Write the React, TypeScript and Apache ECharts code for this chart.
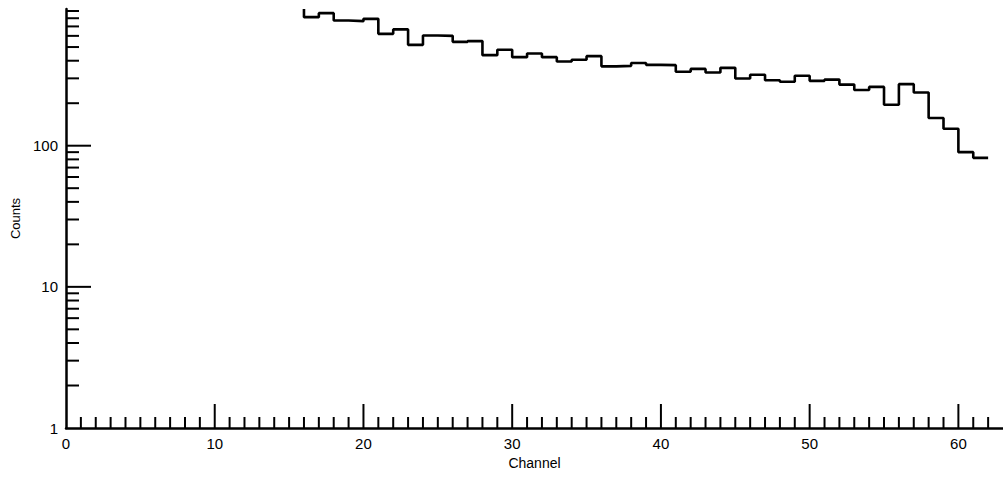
import React, { useEffect, useRef } from "react";
import * as echarts from "echarts";

const FIRST_CHANNEL = 16;
const counts = [
  814, 869, 770, 763, 792, 620, 667, 518, 603, 600, 544, 551, 438, 478, 424, 450,
  424, 395, 406, 431, 365, 368, 385, 374, 372, 334, 350, 330, 356, 299, 318, 291,
  284, 313, 288, 294, 271, 248, 261, 195, 273, 238, 157, 132, 90, 82,
];
const xMin = 0;
const xMax = 63;
const yMin = 1;
const yMax = 930;
const xMajorTicks = [10, 20, 30, 40, 50, 60];
const xMinorTicks = Array.from({ length: 62 }, (_, i) => i + 1).filter((v) => v % 10 !== 0);
const yMajorTicks = [10, 100];
const yMinorTicks = [2, 3, 4, 5, 6, 7, 8, 9, 20, 30, 40, 50, 60, 70, 80, 90, 200, 300, 400, 500, 600, 700, 800, 900];
const yLabels = [1, 10, 100];

const FONT = "'Liberation Sans', Arial, Helvetica, sans-serif";

export default function App() {
  const ref = useRef<HTMLDivElement>(null);
  useEffect(() => {
    if (!ref.current) return;
    const chart = echarts.init(ref.current, null, { renderer: "svg" });

    const histData: number[][] = [[FIRST_CHANNEL, yMax]];
    counts.forEach((c, i) => histData.push([FIRST_CHANNEL + i, c]));
    histData.push([FIRST_CHANNEL + counts.length, counts[counts.length - 1]]);

    const xTickData = [
      ...xMinorTicks.map((v) => [v, 11]),
      ...xMajorTicks.map((v) => [v, 24]),
    ];
    const yTickData = [
      ...yMinorTicks.map((v) => [v, 13]),
      ...yMajorTicks.map((v) => [v, 25]),
    ];

    chart.setOption({
      animation: false,
      backgroundColor: "#ffffff",
      grid: { left: 66, right: 0, top: 9, bottom: 49, containLabel: false },
      xAxis: {
        type: "value",
        min: xMin,
        max: xMax,
        interval: 10,
        axisLine: { show: true, onZero: false, lineStyle: { color: "#000", width: 2.5 } },
        axisTick: { show: false },
        splitLine: { show: false },
        axisLabel: {
          color: "#000",
          fontFamily: FONT,
          fontSize: 15,
          margin: 8,
          showMaxLabel: false,
          formatter: (v: number) => (v % 10 === 0 ? String(v) : ""),
        },
        name: "Channel",
        nameLocation: "middle",
        nameGap: 28,
        nameTextStyle: { color: "#000", fontFamily: FONT, fontSize: 14 },
      },
      yAxis: {
        type: "log",
        logBase: 10,
        min: yMin,
        max: yMax,
        axisLine: { show: true, onZero: false, lineStyle: { color: "#000", width: 2.5 } },
        axisTick: { show: false },
        minorTick: { show: false },
        splitLine: { show: false },
        axisLabel: {
          color: "#000",
          fontFamily: FONT,
          fontSize: 15,
          margin: 8,
          showMaxLabel: false,
          formatter: (v: number) => (yLabels.includes(Math.round(v)) ? String(Math.round(v)) : ""),
        },
        name: "Counts",
        nameLocation: "middle",
        nameGap: 40,
        nameRotate: 90,
        nameTextStyle: { color: "#000", fontFamily: FONT, fontSize: 13 },
      },
      series: [
        {
          type: "custom",
          silent: true,
          data: xTickData,
          renderItem: (params: any, api: any) => {
            const p = api.coord([api.value(0), yMin]);
            const len = api.value(1);
            return {
              type: "line",
              shape: { x1: p[0], y1: p[1], x2: p[0], y2: p[1] - len },
              style: { stroke: "#000", lineWidth: 2 },
            };
          },
        },
        {
          type: "custom",
          silent: true,
          data: yTickData,
          renderItem: (params: any, api: any) => {
            const p = api.coord([xMin, api.value(0)]);
            const len = api.value(1);
            return {
              type: "line",
              shape: { x1: p[0], y1: p[1], x2: p[0] + len, y2: p[1] },
              style: { stroke: "#000", lineWidth: 2 },
            };
          },
          encode: { x: -1, y: 0 },
        },
        {
          type: "line",
          step: "end",
          data: histData,
          symbol: "none",
          clip: false,
          lineStyle: { color: "#000", width: 2.6 },
        },
      ],
    });
    return () => chart.dispose();
  }, []);
  return (
    <div
      ref={ref}
      style={{ position: "absolute", left: 0, top: 0, width: 1003, height: 477, background: "#fff" }}
    />
  );
}
